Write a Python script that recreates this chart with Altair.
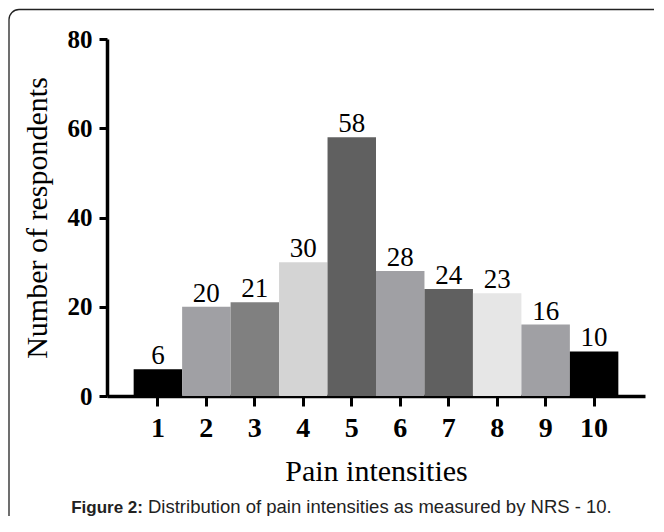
import altair as alt
import pandas as pd

# ---- data ----
intensities = [1, 2, 3, 4, 5, 6, 7, 8, 9, 10]
respondents = [6, 20, 21, 30, 58, 28, 24, 23, 16, 10]
y_ticks = [0, 20, 40, 60, 80]

# ---- styles ----
bar_colors = ["#000000", "#a0a0a4", "#808080", "#d4d4d4", "#606060",
              "#a0a0a4", "#606060", "#e6e6e6", "#a0a0a4", "#000000"]
x_title = "Pain intensities"
y_title = "Number of respondents"
caption_bold = "Figure 2:"
caption_text = "Distribution of pain intensities as measured by NRS - 10."

SERIF = "Liberation Serif"
SANS = "Liberation Sans"

df = pd.DataFrame({"intensity": intensities, "respondents": respondents})

x_enc = alt.X(
    "intensity:O",
    sort=intensities,
    scale=alt.Scale(paddingInner=0, paddingOuter=0.55),
    axis=alt.Axis(
        title=x_title, labelAngle=0, labelFont=SERIF, labelFontWeight="bold",
        labelFontSize=28, labelColor="black", labelPadding=8,
        tickSize=10, tickWidth=3, tickColor="black",
        domainColor="black", domainWidth=3.5,
        titleFont=SERIF, titleFontWeight="normal", titleFontSize=30,
        titleColor="black", titleY=84, titleBaseline="alphabetic",
    ),
)
y_enc = alt.Y(
    "respondents:Q",
    scale=alt.Scale(domain=[0, 80], nice=False),
    axis=alt.Axis(
        title=y_title, values=y_ticks, grid=False, labelOverlap=False,
        labelFont=SERIF, labelFontWeight="bold", labelFontSize=25,
        labelColor="black", labelPadding=7,
        tickSize=8, tickWidth=3, tickColor="black",
        domainColor="black", domainWidth=3.5,
        titleFont=SERIF, titleFontWeight="normal", titleFontSize=30,
        titleColor="black", titleX=-60.5, titleBaseline="alphabetic",
    ),
)

base = alt.Chart(df)

bars = base.mark_bar().encode(
    x=x_enc,
    y=y_enc,
    color=alt.Color("intensity:O", scale=alt.Scale(domain=intensities, range=bar_colors), legend=None),
)

labels = base.mark_text(
    font=SERIF, fontSize=27, baseline="alphabetic", align="center", dy=-5, color="black"
).encode(
    x=alt.X("intensity:O", sort=intensities),
    y=alt.Y("respondents:Q"),
    text="respondents:Q",
)

one = pd.DataFrame({"k": [0]})

frame = alt.Chart(one).mark_rect(
    fillOpacity=0, stroke="#222222", strokeWidth=1.3, cornerRadius=10
).encode(
    x=alt.value(-98), x2=alt.value(900), y=alt.value(-29.5), y2=alt.value(900)
)

cap_b = alt.Chart(one).mark_text(
    text=caption_bold, font=SANS, fontWeight="bold", fontSize=17,
    align="right", baseline="alphabetic", color="#222222"
).encode(x=alt.value(36), y=alt.value(474))

cap_r = alt.Chart(one).mark_text(
    text=caption_text, font=SANS, fontSize=18.5,
    align="left", baseline="alphabetic", color="#222222"
).encode(x=alt.value(41), y=alt.value(474))

chart = alt.layer(frame, bars, labels, cap_b, cap_r).properties(
    width=538,
    height=357,
    autosize=alt.AutoSizeParams(type="none"),
    padding={"left": 99, "top": 31, "right": 9, "bottom": 120},
).configure_view(stroke=None)

chart.save("out.html", embed_options={"renderer": "svg", "actions": False})
